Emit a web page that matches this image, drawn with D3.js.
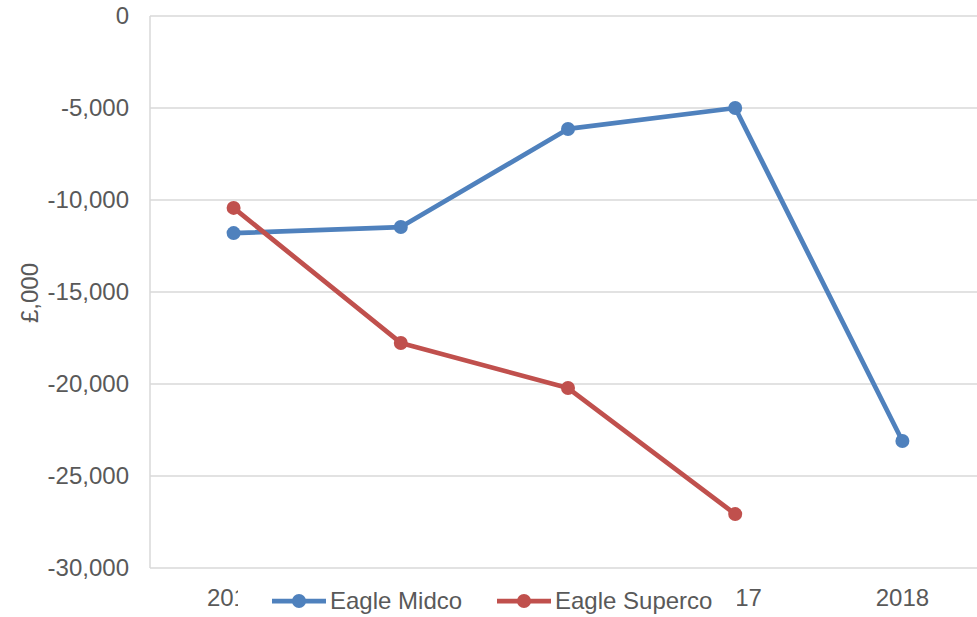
<!DOCTYPE html>
<html lang="en">
<head>
<script src="https://d3js.org/d3.v7.min.js"></script>
<style>
  body { margin: 0; background: #fff; }
  text { font-family: "Liberation Sans", Arial, sans-serif; fill: #595959; }
  .grid line { stroke: #d9d9d9; stroke-width: 1.5px; }
</style>
</head>
<body>
<svg id="chart" width="977" height="617"></svg>
<script>
const years = ["2014", "2015", "2016", "2017", "2018"];
const midco = [-11800, -11470, -6140, -5000, -23100];
const superco = [-10430, -17770, -20220, -27070, null];
const yTicks = [0, -5000, -10000, -15000, -20000, -25000, -30000];

const series = [
  { name: "Eagle Midco", values: midco, color: "#4F81BD" },
  { name: "Eagle Superco", values: superco, color: "#C0504D" }
];

const svg = d3.select("#chart");
const plotLeft = 150, plotTop = 16, plotBottom = 568, plotRight = 986;
const fontSize = 24;

const x = d3.scaleBand().domain(years).range([plotLeft, plotRight]);
const y = d3.scaleLinear().domain([-30000, 0]).range([plotBottom, plotTop]);

// gridlines
svg.append("g").attr("class", "grid")
   .selectAll("line").data(yTicks).join("line")
   .attr("x1", plotLeft).attr("x2", 977)
   .attr("y1", d => y(d)).attr("y2", d => y(d));

svg.append("line")
   .attr("x1", plotLeft).attr("x2", plotLeft).attr("y1", plotTop).attr("y2", plotBottom)
   .attr("stroke", "#d9d9d9").attr("stroke-width", 1.5);

// y tick labels
const fmt = d3.format(",");
svg.append("g").selectAll("text").data(yTicks).join("text")
   .attr("x", 129).attr("y", d => y(d)).attr("dy", "0.35em")
   .attr("text-anchor", "end").attr("font-size", fontSize)
   .text(d => d === 0 ? "0" : "-" + fmt(-d));

svg.append("text")
   .attr("transform", "translate(38,293) rotate(-90)")
   .attr("text-anchor", "middle").attr("font-size", fontSize)
   .text("£,000");

// x labels, partly hidden behind the legend as in the original
const clip = svg.append("defs").append("clipPath").attr("id", "xclip");
clip.append("rect").attr("x", 0).attr("y", 570).attr("width", 238).attr("height", 47);
clip.append("rect").attr("x", 737).attr("y", 570).attr("width", 240).attr("height", 47);

svg.append("g").attr("clip-path", "url(#xclip)")
   .selectAll("text").data(years).join("text")
   .attr("x", d => x(d) + x.bandwidth() / 2).attr("y", 606)
   .attr("text-anchor", "middle").attr("font-size", fontSize)
   .text(d => d);

// lines
const line = d3.line()
   .defined(d => d.v !== null)
   .x(d => x(d.year) + x.bandwidth() / 2)
   .y(d => y(d.v));

series.forEach(s => {
  const pts = years.map((yr, i) => ({ year: yr, v: s.values[i] }));
  svg.append("path").datum(pts)
     .attr("fill", "none").attr("stroke", s.color)
     .attr("stroke-width", 4.75).attr("stroke-linejoin", "round")
     .attr("d", line);
  svg.append("g").selectAll("circle").data(pts.filter(d => d.v !== null)).join("circle")
     .attr("cx", d => x(d.year) + x.bandwidth() / 2)
     .attr("cy", d => y(d.v))
     .attr("r", 7).attr("fill", s.color);
});

// legend
const legX = [272, 497];
series.forEach((s, i) => {
  const g = svg.append("g").attr("transform", `translate(${legX[i]},601)`);
  g.append("line").attr("x1", 0).attr("x2", 54).attr("stroke", s.color).attr("stroke-width", 4.75);
  g.append("circle").attr("cx", 27).attr("r", 7).attr("fill", s.color);
  g.append("text").attr("x", 58).attr("dy", "0.33em").attr("font-size", fontSize).text(s.name);
});
</script>
</body>
</html>
